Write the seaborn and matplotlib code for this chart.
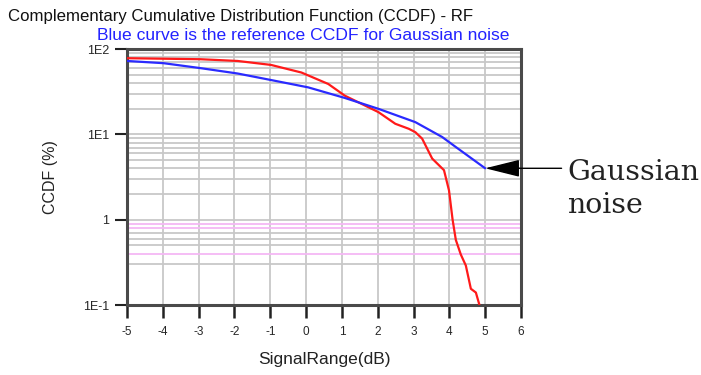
import numpy as np
import pandas as pd
import matplotlib
matplotlib.use("Agg")
import matplotlib.pyplot as plt
import seaborn as sns

# Values (CCDF in %)
rf_x = [-5, -2.95, -1.91, -0.98, -0.13, 0.62, 1.08, 2.02, 2.49, 2.87, 3.05,
        3.24, 3.52, 3.85, 3.99, 4.09, 4.18, 4.32, 4.46, 4.60, 4.74, 4.84]
rf_ccdf = [78, 75.9, 72.4, 65.1, 53, 38.9, 28.4, 18.2, 13.3, 11.6, 10.6,
           8.9, 5.2, 3.8, 2.2, 1.0, 0.58, 0.39, 0.29, 0.155, 0.14, 0.10]

gauss_x = [-5, -3.98, -2.95, -1.91, -0.98, 0.06, 1.08, 2.02, 3.05, 3.80, 4.18, 5.0]
gauss_ccdf = [72.4, 68.2, 59.7, 51.6, 43.3, 35.5, 26.7, 19.9, 13.9, 9.3, 7.1, 4.0]

x_ticks = [-5, -4, -3, -2, -1, 0, 1, 2, 3, 4, 5, 6]
y_ticks = [0.1, 1, 10, 100]
y_tick_labels = ["1E-1", "1", "1E1", "1E2"]

# gridline colours in the lowest decade (some are pink in the original)
pink_levels = [0.9, 0.8, 0.4]
gray_levels_low = [0.7, 0.6, 0.5, 0.3]

sns.set_style("white")
plt.rcParams['font.family'] = ['Liberation Sans', 'DejaVu Sans']
plt.rcParams['axes.unicode_minus'] = False

df = pd.concat([
    pd.DataFrame({"x": rf_x, "ccdf": rf_ccdf, "curve": "RF"}),
    pd.DataFrame({"x": gauss_x, "ccdf": gauss_ccdf, "curve": "Gaussian"}),
])

fig = plt.figure(figsize=(7.01, 3.75), dpi=100)
W, H = 701, 375
ax = fig.add_axes([127 / W, 1 - 305 / H, (521 - 127) / W, (305 - 49) / H])

ax.set_yscale("log")
ax.set_xlim(-5, 6)
ax.set_ylim(0.1, 100)

# grid
grid_c = "#c8c8c8"
for xv in x_ticks[1:-1]:
    ax.axvline(xv, color=grid_c, lw=1.3, zorder=1)
for dec in [10, 1]:
    ax.axhline(dec, color=grid_c, lw=1.3, zorder=1)
for dec in [10, 1]:
    for m in range(2, 10):
        ax.axhline(dec * m, color=grid_c, lw=1.3, zorder=1)
for v in gray_levels_low:
    ax.axhline(v, color=grid_c, lw=1.3, zorder=1)
for v in pink_levels:
    ax.axhline(v, color="#f4b8f4", lw=1.3, zorder=1)

sns.lineplot(data=df, x="x", y="ccdf", hue="curve",
             palette={"RF": "#ff1a1a", "Gaussian": "#2a2aff"},
             legend=False, sort=False, estimator=None, lw=1.6, ax=ax, zorder=3)

for s in ax.spines.values():
    s.set_color("#4a4a4a")
    s.set_linewidth(2.2)

ax.set_xticks(x_ticks)
ax.set_xticklabels([str(v) for v in x_ticks], fontsize=8.5)
ax.set_xticks(np.arange(-4.5, 6, 1.0), minor=True)
ax.set_yticks(y_ticks)
ax.set_yticklabels(y_tick_labels, fontsize=9)
ax.yaxis.set_minor_locator(matplotlib.ticker.NullLocator())
ax.tick_params(axis="x", which="major", direction="out", length=9, width=1.8,
               color="#222222", pad=6)
ax.tick_params(axis="x", which="minor", direction="out", length=5, width=1.8,
               color="#222222")
ax.tick_params(axis="y", which="major", direction="out", length=9, width=1.5,
               color="#222222", pad=4)
ax.tick_params(bottom=True, left=True)

ax.set_xlabel("SignalRange(dB)", fontsize=12.5, labelpad=10, color="#222222")
ax.set_ylabel("CCDF (%)", fontsize=11.5, labelpad=18, color="#222222")

fig.text(8 / W, 1 - 16 / H, "Complementary Cumulative Distribution Function (CCDF) - RF",
         fontsize=12.1, color="#111111", va="center", ha="left")
fig.text(97 / W, 1 - 35 / H, "Blue curve is the reference CCDF for Gaussian noise",
         fontsize=12.6, color="#2222ff", va="center", ha="left")

ax.annotate("", xy=(gauss_x[-1], gauss_ccdf[-1]), xycoords="data",
            xytext=(55, 0), textcoords="offset points",
            arrowprops=dict(arrowstyle="-|>,head_length=1.45,head_width=0.36",
                            mutation_scale=15, color="black", lw=1,
                            shrinkA=0, shrinkB=0),
            annotation_clip=False, zorder=5)
fig.text(567 / W, 1 - 180 / H, "Gaussian", family="DejaVu Serif",
         fontsize=20.5, color="#222222", va="baseline", ha="left")
fig.text(567 / W, 1 - 213 / H, "noise", family="DejaVu Serif",
         fontsize=20.5, color="#222222", va="baseline", ha="left")

fig.savefig("out.png", dpi=100)
